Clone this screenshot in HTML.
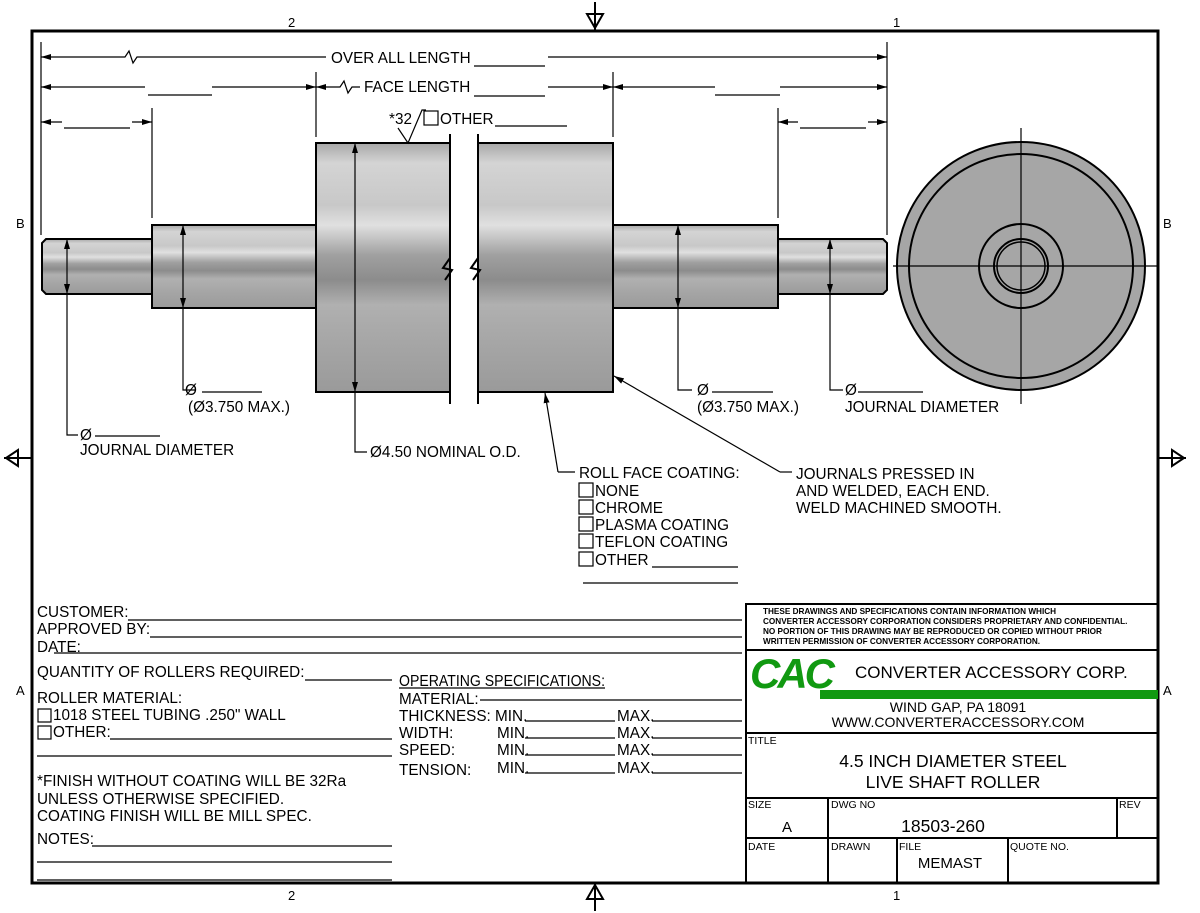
<!DOCTYPE html>
<html><head><meta charset="utf-8"><style>
html,body{margin:0;padding:0;background:#fff}
svg{display:block}
text{font-family:"Liberation Sans",Arial,sans-serif;fill:#000}
</style></head><body>
<svg width="1200" height="913" viewBox="0 0 1200 913" xmlns="http://www.w3.org/2000/svg">
<defs>
<linearGradient id="m" x1="0" y1="0" x2="0" y2="1">
<stop offset="0" stop-color="#a8a8a8"/>
<stop offset="0.08" stop-color="#d4d4d4"/>
<stop offset="0.25" stop-color="#c8c8c8"/>
<stop offset="0.33" stop-color="#e0e0e0"/>
<stop offset="0.45" stop-color="#a0a0a0"/>
<stop offset="0.55" stop-color="#8c8c8c"/>
<stop offset="0.65" stop-color="#b0b0b0"/>
<stop offset="0.8" stop-color="#a6a6a6"/>
<stop offset="1" stop-color="#9a9a9a"/>
</linearGradient>
<marker id="a" viewBox="0 0 10 6" refX="10" refY="3" markerWidth="10" markerHeight="6" orient="auto-start-reverse" markerUnits="userSpaceOnUse"><path d="M0,0L10,3L0,6z" fill="#000"/></marker>
</defs>
<g fill="none" stroke="#000">
<rect x="32" y="31" width="1126" height="852" stroke-width="3"/>
</g>
<g font-size="13">
<text x="288" y="27">2</text><text x="893" y="27">1</text>
<text x="288" y="900">2</text><text x="893" y="900">1</text>
<text x="16" y="228">B</text><text x="1163" y="228">B</text>
<text x="16" y="695">A</text><text x="1163" y="695">A</text>
</g>
<g stroke="#000" stroke-width="2" fill="none">
<path d="M595,2V30M587,14H603L595,28Z"/>
<path d="M595,883V911M587,899H603L595,885Z"/>
<path d="M4,458H32M18,450V466L6,458Z"/>
<path d="M1158,458H1186M1172,450V466L1184,458Z"/>
</g>
<g stroke="#000" stroke-width="2" fill="url(#m)">
<path d="M46,239H152V294H46L42,290V243Z"/>
<rect x="152" y="225" width="164" height="83"/>
<path d="M316,143H450V392H316Z"/>
<path d="M478,143H613V392H478Z"/>
<rect x="613" y="225" width="165" height="83"/>
<path d="M778,239H883L887,243V290L883,294H778Z"/>
</g>
<rect x="451" y="140" width="26" height="255" fill="#fff"/>
<g stroke="#000" stroke-width="2" fill="none">
<path d="M450,134V404M478,134V404"/>
<path d="M450,258L443,268L452,270L445,280M478,258L471,268L480,270L473,280"/>
</g>
<g stroke="#000" stroke-width="2">
<circle cx="1021" cy="266" r="124" fill="#a6a6a6"/>
<circle cx="1021" cy="266" r="112" fill="#a6a6a6"/>
<circle cx="1021" cy="266" r="42" fill="#a6a6a6"/>
<circle cx="1021" cy="266" r="27" fill="#a6a6a6"/>
<circle cx="1021" cy="266" r="24" fill="#a6a6a6" stroke-width="1.5"/>
</g>
<g stroke="#000" stroke-width="1.2">
<path d="M1021,128V404M893,266H1158M1008,266H1034"/>
</g>
<g stroke="#000" stroke-width="1.2" fill="none">
<path d="M41,42V235M887,42V235M152,108V218M778,108V218M316,72V137M613,72V137"/>
<path d="M41,57H125l4,-6l4,12l4,-6H326" marker-start="url(#a)"/>
<path d="M548,57H887" marker-end="url(#a)"/>
<path d="M41,87H145" marker-start="url(#a)"/>
<path d="M212,87H316" marker-end="url(#a)"/>
<path d="M316,87H340l4,-6l4,12l4,-6H360" marker-start="url(#a)"/>
<path d="M548,87H613" marker-end="url(#a)"/>
<path d="M613,87H715" marker-start="url(#a)"/>
<path d="M780,87H887" marker-end="url(#a)"/>
<path d="M148,95H212M715,95H780"/>
<path d="M41,122H62" marker-start="url(#a)"/>
<path d="M132,122H152" marker-end="url(#a)"/>
<path d="M64,128H130M800,128H866"/>
<path d="M778,122H798" marker-start="url(#a)"/>
<path d="M868,122H887" marker-end="url(#a)"/>
<path d="M67,239V294" marker-start="url(#a)" marker-end="url(#a)"/>
<path d="M67,294V435H78"/>
<path d="M183,225V308" marker-start="url(#a)" marker-end="url(#a)"/>
<path d="M183,308V390H195"/>
<path d="M355,143V392" marker-start="url(#a)" marker-end="url(#a)"/>
<path d="M355,392V452H367"/>
<path d="M678,225V308" marker-start="url(#a)" marker-end="url(#a)"/>
<path d="M678,308V390H692"/>
<path d="M830,239V294" marker-start="url(#a)" marker-end="url(#a)"/>
<path d="M830,294V390H843"/>
<path d="M558,472L545,393" marker-end="url(#a)"/>
<path d="M558,472H575"/>
<path d="M780,472L614,376" marker-end="url(#a)"/>
<path d="M780,472H792"/>
<path d="M398,128L408,143L422,110H426"/>
<rect x="424" y="111" width="14" height="14"/>
<path d="M495,126H567"/>
<rect x="579" y="483" width="14" height="14"/><rect x="579" y="500" width="14" height="14"/>
<rect x="579" y="517" width="14" height="14"/><rect x="579" y="534" width="14" height="14"/>
<rect x="579" y="552" width="14" height="14"/>
<path d="M652,567H738M583,583H738"/>
<path d="M474,66H545M474,96H545M95,436H160M202,392H262M712,392H773M858,392H923"/>
</g>
<g font-size="15.3">
<text x="331" y="63">OVER ALL LENGTH</text>
<text x="364" y="92">FACE LENGTH</text>
<text x="389" y="124">*32</text>
<text x="440" y="124">OTHER</text>
<text x="80" y="440">Ø</text>
<text x="80" y="455">JOURNAL DIAMETER</text>
<text x="185" y="395">Ø</text>
<text x="188" y="412">(Ø3.750 MAX.)</text>
<text x="370" y="457">Ø4.50 NOMINAL O.D.</text>
<text x="697" y="395">Ø</text>
<text x="697" y="412">(Ø3.750 MAX.)</text>
<text x="845" y="395">Ø</text>
<text x="845" y="412">JOURNAL DIAMETER</text>
<text x="579" y="478">ROLL FACE COATING:</text>
<text x="595" y="496">NONE</text>
<text x="595" y="513">CHROME</text>
<text x="595" y="530">PLASMA COATING</text>
<text x="595" y="547">TEFLON COATING</text>
<text x="595" y="565">OTHER</text>
<text x="796" y="479">JOURNALS PRESSED IN</text>
<text x="796" y="496">AND WELDED, EACH END.</text>
<text x="796" y="513">WELD MACHINED SMOOTH.</text>
</g>
<g stroke="#000" stroke-width="1.2" fill="none">
<path d="M128,620H742M150,637H742M54,653H742M305,680H392M480,700H742M525,721H615M652,721H742M525,738H615M652,738H742M525,755H615M652,755H742M525,773H615M652,773H742M110,739H392M37,756H392M92,846H392M37,862H392M37,880H392M399,688H605"/>
<rect x="38" y="709" width="13" height="13"/><rect x="38" y="726" width="13" height="13"/>
</g>
<g font-size="15.3">
<text x="37" y="617">CUSTOMER:</text>
<text x="37" y="634">APPROVED BY:</text>
<text x="37" y="652">DATE:</text>
<text x="37" y="677">QUANTITY OF ROLLERS REQUIRED:</text>
<text x="37" y="703">ROLLER MATERIAL:</text>
<text x="53" y="720">1018 STEEL TUBING .250" WALL</text>
<text x="53" y="737">OTHER:</text>
<text x="37" y="786">*FINISH WITHOUT COATING WILL BE 32Ra</text>
<text x="37" y="804">UNLESS OTHERWISE SPECIFIED.</text>
<text x="37" y="821">COATING FINISH WILL BE MILL SPEC.</text>
<text x="37" y="844">NOTES:</text>
<text x="399" y="686" textLength="206" lengthAdjust="spacingAndGlyphs">OPERATING SPECIFICATIONS:</text>
<text x="399" y="704">MATERIAL:</text>
<text x="399" y="721">THICKNESS: MIN.</text><text x="617" y="721">MAX.</text>
<text x="399" y="738">WIDTH:</text><text x="497" y="738">MIN.</text><text x="617" y="738">MAX.</text>
<text x="399" y="755">SPEED:</text><text x="497" y="755">MIN.</text><text x="617" y="755">MAX.</text>
<text x="399" y="775">TENSION:</text><text x="497" y="773">MIN.</text><text x="617" y="773">MAX.</text>
</g>
<g stroke="#000" stroke-width="2" fill="none">
<rect x="746" y="604" width="412" height="279"/>
<path d="M746,650H1158M746,733H1158M746,798H1158M746,838H1158M828,798V883M1117,798V838M897,838V883M1008,838V883"/>
</g>
<g font-size="8.2" font-weight="bold">
<text x="763" y="614">THESE DRAWINGS AND SPECIFICATIONS CONTAIN INFORMATION WHICH</text>
<text x="763" y="624">CONVERTER ACCESSORY CORPORATION CONSIDERS PROPRIETARY AND CONFIDENTIAL.</text>
<text x="763" y="634">NO PORTION OF THIS DRAWING MAY BE REPRODUCED OR COPIED WITHOUT PRIOR</text>
<text x="763" y="644">WRITTEN PERMISSION OF CONVERTER ACCESSORY CORPORATION.</text>
</g>
<text x="750" y="688" font-size="42" font-weight="bold" font-style="italic" style="fill:#119911" letter-spacing="-3">CAC</text>
<rect x="820" y="690" width="338" height="9" fill="#119911"/>
<text x="855" y="678" font-size="17">CONVERTER ACCESSORY CORP.</text>
<text x="958" y="712" font-size="14" text-anchor="middle">WIND GAP, PA 18091</text>
<text x="958" y="727" font-size="14" text-anchor="middle">WWW.CONVERTERACCESSORY.COM</text>
<g font-size="10.5">
<text x="748" y="744">TITLE</text>
<text x="748" y="808">SIZE</text><text x="831" y="808">DWG NO</text><text x="1119" y="808">REV</text>
<text x="748" y="850">DATE</text><text x="831" y="850">DRAWN</text><text x="899" y="850">FILE</text><text x="1010" y="850">QUOTE NO.</text>
</g>
<g font-size="17.5" text-anchor="middle">
<text x="953" y="767">4.5 INCH DIAMETER STEEL</text>
<text x="953" y="788">LIVE SHAFT ROLLER</text>
<text x="787" y="832" font-size="15">A</text>
<text x="943" y="832">18503-260</text>
<text x="950" y="868" font-size="15">MEMAST</text>
</g>
</svg>
</body></html>
